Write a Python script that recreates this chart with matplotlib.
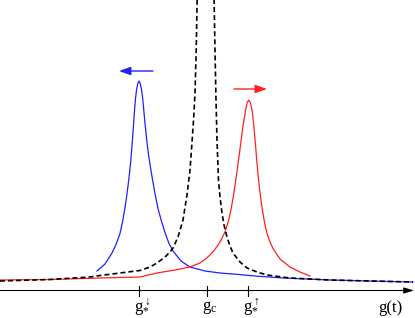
import matplotlib
matplotlib.use("Agg")
import matplotlib.pyplot as plt

plt.rcParams['mathtext.fontset'] = 'custom'
plt.rcParams['mathtext.rm'] = 'Liberation Serif'
plt.rcParams['mathtext.it'] = 'Liberation Serif:italic'
plt.rcParams['lines.scale_dashes'] = False

# curves (x along g, height above the g axis)
blue_x = [97, 105, 112, 116, 120, 122.5, 125, 126.5, 128, 129.5, 130.8, 132, 133.2, 134.3, 135.4, 136.6,
          137.8, 139, 140.2, 141.5, 142.8, 144, 145.5, 147, 148.5, 150, 152, 155, 158, 161, 165, 169, 173,
          181, 190, 205, 220, 233, 255, 283, 330, 370, 413]
blue_h = [19.5, 26.5, 37.5, 46, 57, 68.5, 83, 93, 104.5, 117, 130, 145, 161, 177, 191, 201,
          207, 209.5, 207, 201, 191, 178, 162, 148, 136, 126, 114, 97, 82, 71, 58, 47, 39.5,
          29.5, 23.5, 19.5, 17.5, 16.5, 14.5, 12.5, 10.5, 9.5, 8.5]

red_x = [0, 50, 100, 140, 157, 175, 190, 200, 205, 210, 214, 217, 220, 225, 229, 231, 233, 235, 237, 239, 241,
         242.7, 245.3, 247, 248.7, 250.5, 252.3, 254, 255.5, 257, 258.5, 260, 262, 264.5, 267, 270, 273,
         280, 290, 300, 310]
red_h = [10.5, 11, 12.5, 13.5, 17.5, 20.5, 23.5, 27.5, 31, 35.5, 40, 44, 48.5, 58.5, 71.5, 81, 92, 105, 119, 134, 149,
         162.5, 178.8, 187.5, 190.5, 187.5, 178.8, 163, 146, 127, 111, 98, 83, 68, 57, 48.5, 42,
         31.5, 23.5, 18.5, 14.5]

black_left_x = [0, 50, 90, 100, 120, 140, 150, 157, 165, 170, 173, 178, 183, 187, 190, 192, 193.5, 195, 196.2, 197.2]
black_left_h = [9.5, 11, 13.5, 15, 17.5, 20, 23.5, 27.5, 33.5, 38.5, 42.5, 53.5, 70.5, 95.5, 120.5, 148, 170,
                197, 240, 295]
black_right_x = [214, 215, 216, 217, 218.5, 220, 222, 224, 227, 230, 233, 240, 247, 257, 267, 290, 330, 370, 413]
black_right_h = [295, 240.5, 190.5, 150.5, 110.5, 93.5, 77.5, 65.5, 53.5, 44.5, 37.5, 28.5, 22.5, 18.5, 15.5,
                 12.5, 10.5, 9.5, 8.5]

tick_pos = [139, 207, 248]
tick_labels = [r'$\mathrm{g}_{*}^{\downarrow}$', r'$\mathrm{g}_{\mathrm{c}}$', r'$\mathrm{g}_{*}^{\uparrow}$']

fig = plt.figure(figsize=(4.15, 3.18), dpi=100)
ax = fig.add_axes([0, 0, 1, 1])
ax.set_xlim(0, 415)
ax.set_ylim(-27.5, 290.5)
ax.axis('off')

ax.plot(blue_x, blue_h, color='#2020ff', lw=0.9)
ax.plot(red_x, red_h, color='#ff2020', lw=0.9)
ax.plot(black_left_x, black_left_h, color='black', lw=1.2, dashes=(3.6, 2.2))
ax.plot(black_right_x, black_right_h, color='black', lw=1.2, dashes=(3.6, 2.2))

# g axis with arrow
ax.annotate('', xy=(414, 0), xytext=(0, 0),
            arrowprops=dict(arrowstyle='-|>,head_length=0.6,head_width=0.18', color='black', lw=0.8,
                            shrinkA=0, shrinkB=0))
for p, lab in zip(tick_pos, tick_labels):
    ax.plot([p, p], [-5, 5], color='black', lw=0.8)
    ax.text(p + 3, -16.5, lab, ha='center', va='center', fontsize=12)
ax.text(390, -17.5, 'g(t)', ha='center', va='center', fontsize=12, family='Liberation Serif')

# drift arrows
ax.annotate('', xy=(119, 219.5), xytext=(153, 219.5),
            arrowprops=dict(arrowstyle='-|>,head_length=0.7,head_width=0.25', color='#2020ff', lw=1.0,
                            shrinkA=0, shrinkB=0))
ax.annotate('', xy=(267, 201.5), xytext=(234, 201.5),
            arrowprops=dict(arrowstyle='-|>,head_length=0.7,head_width=0.25', color='#ff2020', lw=1.0,
                            shrinkA=0, shrinkB=0))

plt.savefig('out.png', dpi=100)
